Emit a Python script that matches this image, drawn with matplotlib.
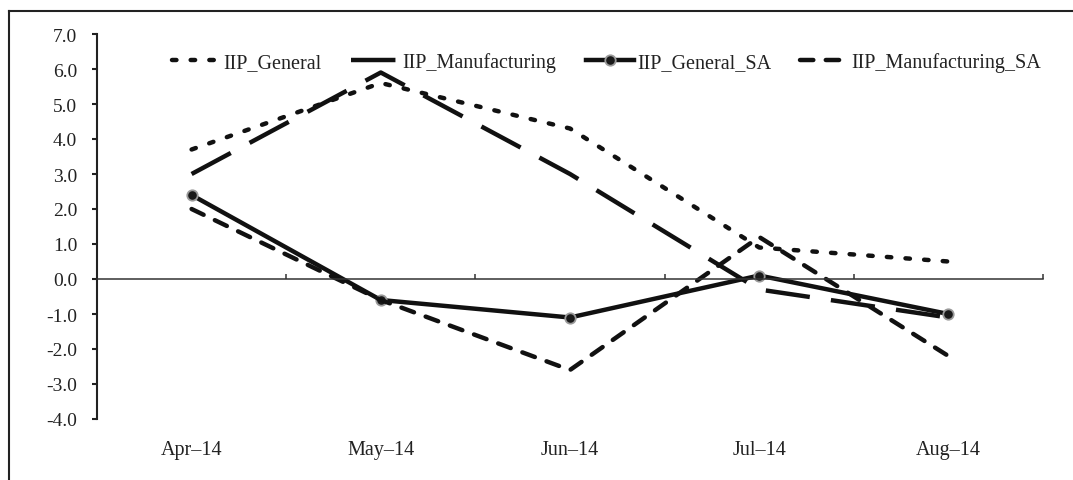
import numpy as np
import matplotlib
matplotlib.use('Agg')
import matplotlib.pyplot as plt
from matplotlib.lines import Line2D
import matplotlib.transforms as mtransforms

months = ['Apr\u201314', 'May\u201314', 'Jun\u201314', 'Jul\u201314', 'Aug\u201314']
iip_general = [3.7, 5.6, 4.3, 0.9, 0.5]
iip_manufacturing = [3.0, 5.9, 3.0, -0.3, -1.1]
iip_general_sa = [2.4, -0.6, -1.1, 0.1, -1.0]
iip_manufacturing_sa = [2.0, -0.6, -2.6, 1.2, -2.2]

plt.rcParams['font.family'] = ['Liberation Serif', 'DejaVu Serif']
plt.rcParams['text.color'] = '#222222'

fig = plt.figure(figsize=(10.73, 4.81), dpi=100)
# axes: x from 97 to 1043 px, y from 35 (7.0) to 420 (-4.0)
ax = fig.add_axes([97 / 1073, 61 / 481, 946 / 1073, 385 / 481])

x = np.arange(len(months))
c = '#111111'
lw = 3.2

ax.plot(x, iip_general, color=c, lw=lw, dashes=(1.0, 3.2), dash_capstyle='round',
        label='IIP_General')
ax.plot(x, iip_manufacturing, color=c, lw=lw, dashes=(10, 4.8), dash_capstyle='butt',
        label='IIP_Manufacturing')
ax.plot(x, iip_general_sa, color=c, lw=lw, marker='o', markersize=7.5,
        markerfacecolor='#1a1a1a', markeredgecolor='#9a9a9a', markeredgewidth=1.3,
        label='IIP_General_SA')
ax.plot(x, iip_manufacturing_sa, color=c, lw=lw, dashes=(3.0, 2.8), dash_capstyle='round',
        label='IIP_Manufacturing_SA')

ax.set_xlim(-0.5, 4.5)
ax.set_ylim(-4, 7)
yt = np.arange(-4, 8, 1)
ax.set_yticks(yt)
ax.set_yticklabels(['%.1f' % v for v in yt])

ax.spines['top'].set_visible(False)
ax.spines['right'].set_visible(False)
ax.spines['bottom'].set_position(('data', 0))
ax.spines['bottom'].set_color('#333333')
ax.spines['bottom'].set_linewidth(1.1)
ax.spines['left'].set_color('#222222')
ax.spines['left'].set_linewidth(1.5)

ax.set_xticks(np.arange(-0.5, 5, 1))
ax.set_xticklabels([])
ax.tick_params(axis='x', direction='in', length=3.5, width=1.1, color='#333333')
ax.tick_params(axis='y', direction='out', length=3.7, width=1.5, color='#222222',
               labelsize=14, pad=10.5, labelcolor='#222222')

trans = mtransforms.blended_transform_factory(ax.transData, ax.transAxes)
for xi, m in zip(x, months):
    ax.text(xi, -0.078, m, transform=trans, ha='center', va='center', fontsize=14.5)

ax.legend(loc='center left', bbox_to_anchor=(0.0605, 0.927), ncol=4, frameon=False,
          fontsize=14.5, handlelength=2.4, columnspacing=1.45, handletextpad=0.15,
          borderpad=0.4)

fig.add_artist(Line2D([9 / 1073, 9 / 1073], [0, 1 - 12 / 481], color='#222222', lw=1.5))
fig.add_artist(Line2D([9 / 1073, 1], [1 - 12 / 481, 1 - 12 / 481], color='#222222', lw=1.5))

fig.savefig('out.png', dpi=100)
